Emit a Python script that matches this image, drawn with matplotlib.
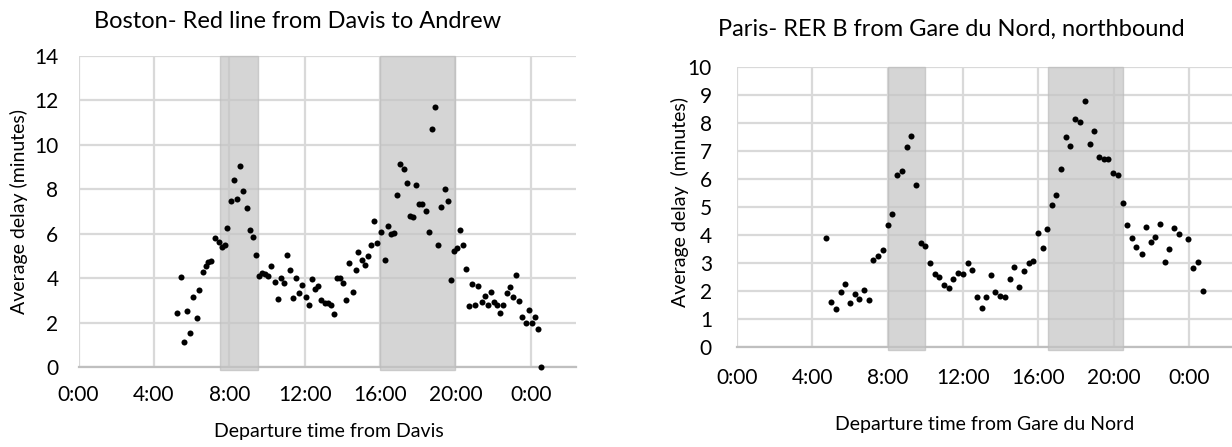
import matplotlib
matplotlib.use("Agg")
import matplotlib.pyplot as plt

plt.rcParams['font.family'] = ['Lato', 'DejaVu Sans']

# Boston - Red line, departure hour (decimal) and average delay (min)
bos_hour = [5.23, 5.41, 5.59, 5.76, 5.92, 6.08, 6.26, 6.41, 6.59, 6.75, 6.89, 7.05,
            7.26, 7.44, 7.59, 7.75, 7.89, 8.07, 8.25, 8.41, 8.58, 8.74, 8.92, 9.09,
            9.25, 9.41, 9.59, 9.73, 9.87, 10.04, 10.22, 10.40, 10.57, 10.73, 10.89,
            11.07, 11.22, 11.38, 11.56, 11.72, 11.88, 12.05, 12.23, 12.39, 12.55,
            12.70, 12.88, 13.06, 13.22, 13.37, 13.53, 13.71, 13.87, 14.04, 14.20,
            14.36, 14.54, 14.70, 14.85, 15.03, 15.19, 15.37, 15.54, 15.70, 15.84,
            16.07, 16.25, 16.41, 16.57, 16.73, 16.90, 17.06, 17.26, 17.42, 17.58,
            17.75, 17.93, 18.09, 18.25, 18.42, 18.58, 18.76, 18.92, 19.10, 19.26,
            19.43, 19.61, 19.79, 19.93, 20.09, 20.23, 20.41, 20.57, 20.73, 20.89,
            21.06, 21.22, 21.40, 21.56, 21.73, 21.91, 22.05, 22.23, 22.39, 22.55,
            22.73, 22.90, 23.06, 23.22, 23.38, 23.56, 23.72, 23.89, 24.06, 24.23,
            24.39, 24.55]
bos_delay = [2.42, 4.06, 1.12, 2.54, 1.52, 3.16, 2.22, 3.48, 4.28, 4.57, 4.72, 4.78,
             5.81, 5.63, 5.40, 5.48, 6.28, 7.48, 8.40, 7.55, 9.06, 7.90, 7.16, 6.18,
             5.85, 5.03, 4.09, 4.25, 4.21, 4.10, 4.55, 3.85, 3.06, 4.01, 3.81,
             5.06, 4.37, 3.12, 4.00, 3.33, 3.69, 3.16, 2.79, 3.96, 3.54,
             3.64, 3.01, 2.90, 2.87, 2.78, 2.39, 4.00, 4.00, 3.79, 3.03,
             4.69, 3.37, 4.37, 5.19, 4.81, 4.58, 5.01, 5.48, 6.58, 5.60,
             6.10, 4.81, 6.37, 5.99, 6.04, 7.72, 9.13, 8.93, 8.27, 6.78,
             6.76, 8.18, 7.34, 7.33, 7.01, 6.10, 10.69, 11.69, 5.51, 7.18,
             8.00, 7.48, 3.93, 5.22, 5.37, 6.16, 5.48, 4.40, 2.76, 3.76,
             2.81, 3.66, 2.94, 3.21, 2.82, 3.39, 2.93, 2.79, 2.46, 2.81,
             3.34, 3.61, 3.18, 4.16, 2.97, 2.28, 2.00, 2.58, 1.99, 2.25,
             1.73, 0.0]

# Paris - RER B northbound
par_hour = [4.74, 5.01, 5.26, 5.50, 5.75, 6.00, 6.25, 6.50, 6.74, 6.99, 7.24, 7.50,
            7.75, 8.00, 8.25, 8.50, 8.76, 9.01, 9.26, 9.50, 9.75, 10.00, 10.25, 10.50,
            10.74, 10.99, 11.24, 11.49, 11.73, 11.98, 12.25, 12.48, 12.74, 12.99,
            13.24, 13.49, 13.73, 13.98, 14.23, 14.48, 14.73, 14.97, 15.22, 15.49,
            15.73, 15.98, 16.23, 16.48, 16.71, 16.96, 17.20, 17.45, 17.70, 17.96,
            18.21, 18.46, 18.73, 18.97, 19.22, 19.49, 19.73, 19.98, 20.23, 20.48,
            20.73, 20.97, 21.22, 21.49, 21.73, 21.98, 22.23, 22.48, 22.73, 22.97,
            23.22, 23.47, 23.98, 24.23, 24.48, 24.74]
par_delay = [3.90, 1.62, 1.38, 1.98, 2.27, 1.58, 1.90, 1.74, 2.05, 1.68, 3.11, 3.26,
             3.49, 4.38, 4.76, 6.15, 6.29, 7.15, 7.54, 5.80, 3.74, 3.63, 3.02, 2.63,
             2.50, 2.21, 2.11, 2.44, 2.64, 2.61, 3.02, 2.76, 1.79, 1.40,
             1.79, 2.60, 1.98, 1.82, 1.81, 2.44, 2.87, 2.15, 2.73, 3.00,
             3.07, 4.07, 3.54, 4.21, 5.07, 5.43, 6.37, 7.52, 7.18, 8.14,
             8.05, 8.81, 7.26, 7.73, 6.80, 6.74, 6.73, 6.21, 6.15, 5.15,
             4.36, 3.90, 3.58, 3.35, 4.31, 3.76, 3.94, 4.39, 3.06, 3.52,
             4.27, 4.04, 3.86, 2.85, 3.05, 2.00]

bos_peaks = [(7.5, 9.5), (16.0, 20.0)]
par_peaks = [(8.0, 10.0), (16.5, 20.5)]

xticks = [0, 4, 8, 12, 16, 20, 24]
xlabels = ["0:00", "4:00", "8:00", "12:00", "16:00", "20:00", "0:00"]

W, H = 1232, 447
fig = plt.figure(figsize=(W / 100, H / 100), dpi=100)

def px(x0, y0, x1, y1):
    return [x0 / W, 1 - y1 / H, (x1 - x0) / W, (y1 - y0) / H]

grid_c = "#d9d9d9"
tick_fs = 15
lab_fs = 14
title_fs = 17


def panel(ax, hours, delays, peaks, ymax, ystep, ypad, xpad):
    ax.set_xlim(0, 26.4)
    ax.set_ylim(0, ymax)
    ax.set_xticks(xticks)
    ax.set_xticklabels(xlabels)
    ax.set_yticks(range(0, ymax + 1, ystep))
    ax.grid(True, color=grid_c, linewidth=1.6, zorder=0)
    ax.set_axisbelow(True)
    for s in ax.spines.values():
        s.set_visible(False)
    ax.axhline(0, color="#bfbfbf", linewidth=1.6, zorder=1, clip_on=False)
    for a, b in peaks:
        ax.axvspan(a, b, ymin=-0.01, ymax=1, facecolor="#c4c4c4", alpha=0.7,
                   edgecolor="#bdbdbd", linewidth=1.0, zorder=2, clip_on=False)
    ax.scatter(hours, delays, s=19, color="black", zorder=3, clip_on=False,
               linewidths=0)
    ax.tick_params(length=0, labelsize=tick_fs)
    ax.tick_params(axis="y", pad=ypad)
    ax.tick_params(axis="x", pad=xpad)


ax1 = fig.add_axes(px(78.6, 55.7, 576, 367.3))
panel(ax1, bos_hour, bos_delay, bos_peaks, 14, 2, 14.5, 13)

ax2 = fig.add_axes(px(737, 67.3, 1234, 347.3))
panel(ax2, par_hour, par_delay, par_peaks, 10, 1, 18, 15)

fig.text(298 / W, 1 - 22 / H, "Boston- Red line from Davis to Andrew",
         ha="center", va="center", fontsize=title_fs)
fig.text(951 / W, 1 - 29 / H, "Paris- RER B from Gare du Nord, northbound",
         ha="center", va="center", fontsize=title_fs)
fig.text(329 / W, 1 - 431 / H, "Departure time from Davis",
         ha="center", va="center", fontsize=lab_fs)
fig.text(985 / W, 1 - 424.5 / H, "Departure time from Gare du Nord",
         ha="center", va="center", fontsize=lab_fs)
fig.text(19 / W, 1 - 211 / H, "Average delay (minutes)", rotation=90,
         ha="center", va="center", fontsize=lab_fs)
fig.text(680 / W, 1 - 202 / H, "Average delay  (minutes)", rotation=90,
         ha="center", va="center", fontsize=lab_fs)

fig.savefig("out.png", dpi=100)
